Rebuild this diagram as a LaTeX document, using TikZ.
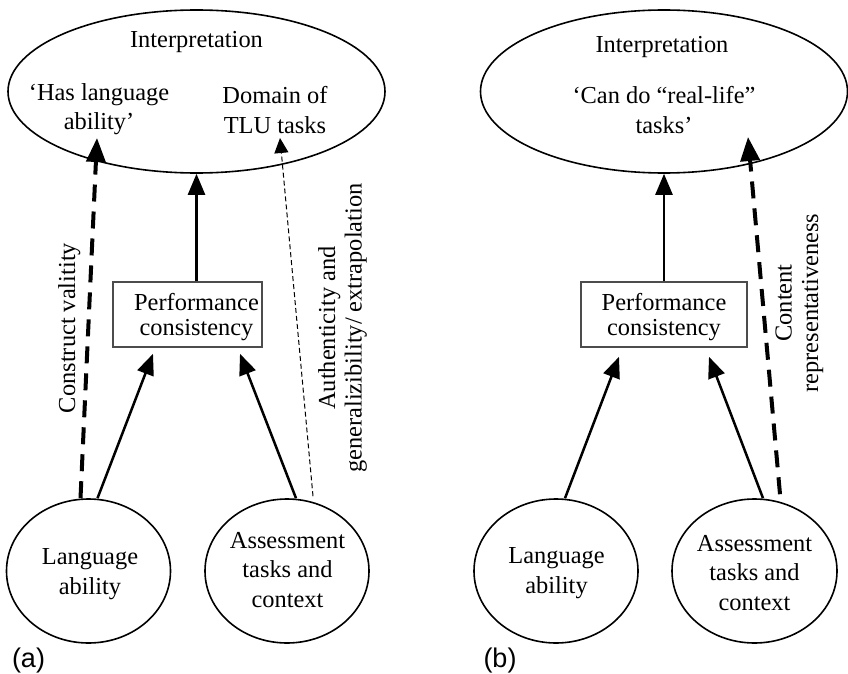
\documentclass[tikz,border=0pt]{standalone}
\usepackage{fontspec}
\setmainfont{Liberation Serif}
\newfontfamily\tagfont{Liberation Sans}
\usetikzlibrary{arrows.meta,shapes.geometric}

\begin{document}
\begin{tikzpicture}[x=1pt,y=-1pt,
  every node/.style={font=\fontsize{24.4}{29.5}\selectfont, inner sep=0pt},
  outline/.style={draw, ellipse, line width=1.6pt, inner sep=0pt},
  txt/.style={align=center},
  boxtxt/.style={align=center, font=\fontsize{24.4}{25}\selectfont},
  rottxt/.style={align=center, rotate=90, font=\fontsize{24.4}{26.5}\selectfont},
  pbox/.style={draw=black!70, line width=1.6pt, rectangle, inner sep=0pt},
  solidarrow/.style={line width=2.5pt, -{Triangle[length=21pt,width=17pt]}},
  heavydash/.style={line width=4pt, dash pattern=on 17pt off 10pt, -{Triangle[length=24pt,width=19pt]}},
  lightdash/.style={line width=1pt, dash pattern=on 5pt off 3pt, -{Triangle[length=15pt,width=14pt]}},
  tag/.style={font=\tagfont\fontsize{27}{30}\selectfont}
]
\useasboundingbox (0,0) rectangle (848,674);

% ---------- panel (a) ----------
% multi-line text nodes are anchored on the baseline of their last line
\node[outline, minimum width=377pt, minimum height=163pt] (ia) at (196.5,91.5) {};
\node[anchor=base] (ia-title) at (196.5,47.5) {Interpretation};
\node[txt, anchor=base] (ia-left) at (99,130) {‘Has language\\ability’};
\node[txt, anchor=base] (ia-right) at (275,133) {Domain of\\TLU tasks};

\node[pbox, minimum width=149pt, minimum height=65pt] (pa) at (187.5,314.5) {};
\node[boxtxt, anchor=base] (pa-text) at (196.5,335) {Performance\\consistency};

\node[outline, minimum width=164pt, minimum height=144pt] (la) at (88.5,571) {};
\node[txt, anchor=base] (la-text) at (90,594) {Language\\ability};
\node[outline, minimum width=164pt, minimum height=144pt] (aa) at (287,571) {};
\node[txt, anchor=base] (aa-text) at (287.5,607) {Assessment\\tasks and\\context};

\draw[solidarrow] (pa.north -| ia.south) -- (ia.south);
\draw[solidarrow] ([xshift=9pt]la.north) -- ([xshift=-34.5pt,yshift=-6pt]pa.south);
\draw[solidarrow] ([xshift=9pt]aa.north) -- ([xshift=52.5pt,yshift=-6pt]pa.south);
\draw[heavydash] ([xshift=-8pt]la.north) -- ([xshift=-99.5pt,yshift=-46.5pt]ia.center);
\draw[lightdash] ([xshift=26pt,yshift=2pt]aa.north) -- ([xshift=83.5pt,yshift=-46.5pt]ia.center);

\node[rottxt, anchor=base] (cv) at (75,328) {Construct valitity};
\node[rottxt] (ag) at (342.5,328) {Authenticity and\\generalizibility/ extrapolation};

\node[tag, anchor=base] (tag-a) at (28.5,667) {(a)};

% ---------- panel (b) ----------
\node[outline, minimum width=367pt, minimum height=163pt] (ib) at (664,91.5) {};
\node[anchor=base] (ib-title) at (662,53) {Interpretation};
\node[txt, anchor=base] (ib-text) at (664,133) {‘Can do “real-life”\\tasks’};

\node[pbox, minimum width=166pt, minimum height=65pt] (pb) at (664,314.5) {};
\node[boxtxt, anchor=base] (pb-text) at (664,335) {Performance\\consistency};

\node[outline, minimum width=164pt, minimum height=144pt] (lb) at (556,571) {};
\node[txt, anchor=base] (lb-text) at (556.5,593) {Language\\ability};
\node[outline, minimum width=165pt, minimum height=144pt] (ab) at (754.5,571) {};
\node[txt, anchor=base] (ab-text) at (754.5,610) {Assessment\\tasks and\\context};

\draw[solidarrow] (pb.north) -- (ib.south);
\draw[solidarrow] ([xshift=9pt]lb.north) -- ([xshift=-45pt,yshift=-9pt]pb.south);
\draw[solidarrow] ([xshift=8.5pt]ab.north) -- ([xshift=45pt,yshift=-9pt]pb.south);
\draw[heavydash] ([xshift=25.5pt,yshift=4pt]ab.north) -- ([xshift=84pt,yshift=-45.5pt]ib.center);

\node[rottxt] (cr) at (799.5,303) {Content\\representativeness};

\node[tag, anchor=base] (tag-b) at (500,667) {(b)};
\end{tikzpicture}
\end{document}
